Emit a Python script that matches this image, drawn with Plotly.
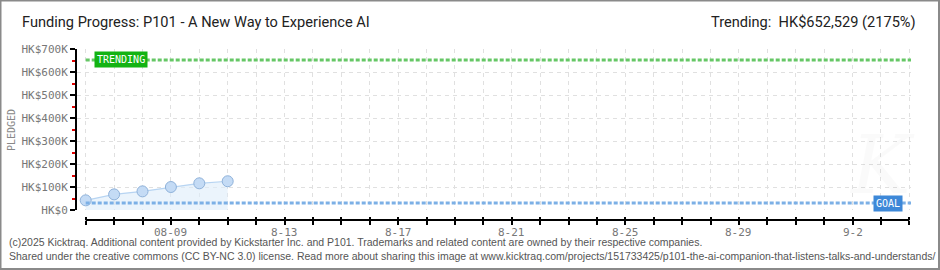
import plotly.graph_objects as go

# ---- data ----
dates = ["2025-08-06", "2025-08-07", "2025-08-08", "2025-08-09", "2025-08-10", "2025-08-11"]
pledged = [42000, 68000, 81000, 100000, 116000, 125000]
goal = 30000
trending = 652529
trend_pct = 2175
tick_dates = ["2025-08-09", "2025-08-13", "2025-08-17", "2025-08-21", "2025-08-25", "2025-08-29", "2025-09-02"]
tick_text = ["08-09", "8-13", "8-17", "8-21", "8-25", "8-29", "9-2"]
y_ticks = [0, 100000, 200000, 300000, 400000, 500000, 600000, 700000]
y_text = ["HK$0", "HK$100K", "HK$200K", "HK$300K", "HK$400K", "HK$500K", "HK$600K", "HK$700K"]
x_range = ["2025-08-05 16:39", "2025-09-04 01:26"]
axis_end = "2025-09-04"
line_end = "2025-09-04 01:26"

# ---- geometry helpers (pixels -> paper) ----
W, H = 940, 270
L, R, T, B = 77, 29, 49, 50
PW, PH = W - L - R, H - T - B
def px(x):
    return (x - L) / PW
def py(y):
    return (H - B - y) / PH

MONO = "DejaVu Sans Mono"
TITLE = "Roboto, Liberation Sans, sans-serif"
FOOT = "Liberation Sans, Arial, sans-serif"

fig = go.Figure()

fig.add_trace(go.Scatter(
    x=dates, y=pledged, mode="lines+markers",
    line=dict(color="#b7d4f2", width=1.2),
    fill="tozeroy", fillcolor="rgba(222,236,250,0.6)",
    marker=dict(size=11, color="#c4dbf5", line=dict(color="#8fb2da", width=1)),
    showlegend=False, hoverinfo="skip"))

fig.add_trace(go.Scatter(
    x=[dates[0], line_end], y=[goal, goal], mode="lines",
    line=dict(color="#7cb0e6", width=3, dash="4px,2px"),
    showlegend=False, hoverinfo="skip"))

fig.add_trace(go.Scatter(
    x=[dates[0], line_end], y=[trending, trending], mode="lines",
    line=dict(color="#66c766", width=3, dash="4px,2px"),
    showlegend=False, hoverinfo="skip"))

# empty trace on overlay axis for inward ticks
fig.add_trace(go.Scatter(x=[], y=[], xaxis="x2", showlegend=False))

tick_common = dict(
    type="date", range=x_range, dtick=86400000, tick0="2025-08-06",
)

GRID = dict(showgrid=True, gridcolor="#e0e0e0", griddash="4px,4px", gridwidth=1)

fig.update_layout(
    width=W, height=H,
    margin=dict(l=L, r=R, t=T, b=B),
    paper_bgcolor="white", plot_bgcolor="white",
    xaxis=dict(
        **tick_common, **GRID,
        anchor="free", position=0,
        showline=False,
        ticks="outside", ticklen=4, tickwidth=1.5, tickcolor="black",
        showticklabels=False,
        zeroline=False,
    ),
    xaxis2=dict(
        **tick_common,
        overlaying="x", anchor="free", position=0,
        showline=False, ticks="inside", ticklen=3, tickwidth=1.5, tickcolor="black",
        showgrid=False, showticklabels=False, zeroline=False,
    ),
    yaxis=dict(
        **GRID,
        range=[0, 700000], domain=[10 / PH, 1],
        tickvals=y_ticks, ticktext=y_text,
        tickfont=dict(family=MONO, size=11, color="#777777"),
        showline=True, linecolor="black", linewidth=2,
        ticks="outside", ticklen=5, tickwidth=1.5, tickcolor="black",
        minor=dict(dtick=50000, tick0=0, ticks="outside", ticklen=3, tickcolor="#e00000", tickwidth=1.5, showgrid=False),
        zeroline=False,
    ),
)

# x tick labels as annotations (partly hidden by the footer band, as in the source)
anns = []
for d, t in zip(tick_dates, tick_text):
    anns.append(dict(x=d, xref="x", y=py(224), yref="paper", yanchor="top",
                     text=t, showarrow=False, font=dict(family=MONO, size=11, color="#777777")))

shapes = [
    # x axis line (starts at first day, like the source)
    dict(type="line", xref="x", yref="paper", x0=dates[0], x1=axis_end, y0=0, y1=0,
         line=dict(color="black", width=2)),
    dict(type="rect", xref="paper", yref="paper", x0=px(1), x1=px(939), y0=py(268), y1=py(232),
         fillcolor="white", line=dict(width=0), layer="above"),
    dict(type="rect", xref="paper", yref="paper", x0=px(0.5), x1=px(939), y0=py(269), y1=py(0.5),
         fillcolor="rgba(0,0,0,0)", line=dict(color="#8a8a8a", width=2), layer="above"),
]

anns += [
    dict(x=px(20), y=py(22), xref="paper", yref="paper", xanchor="left", yanchor="middle",
         text="Funding Progress: P101 - A New Way to Experience AI", showarrow=False,
         font=dict(family=TITLE, size=14.6, color="#222222")),
    dict(x=px(918), y=py(22), xref="paper", yref="paper", xanchor="right", yanchor="middle",
         text=f"Trending:  HK${trending:,} ({trend_pct}%)", showarrow=False,
         font=dict(family=TITLE, size=14.6, color="#222222")),
    dict(x=px(11), y=py(130), xref="paper", yref="paper", xanchor="center", yanchor="middle",
         text="PLEDGED", textangle=-90, showarrow=False,
         font=dict(family=MONO, size=10, color="#888888")),
    dict(x=px(120.5), y=trending, xref="paper", yref="y", xanchor="center", yanchor="middle",
         text="TRENDING", showarrow=False, bgcolor="#13b313", borderpad=2,
         font=dict(family=MONO, size=10, color="white")),
    dict(x=px(888), y=goal, xref="paper", yref="y", xanchor="center", yanchor="middle",
         text="GOAL", showarrow=False, bgcolor="#3d88d8", borderpad=2,
         font=dict(family=MONO, size=10, color="white")),
    dict(x=px(882), y=py(165), xref="paper", yref="paper", xanchor="center", yanchor="middle",
         text="<i>K</i>", showarrow=False,
         font=dict(family="DejaVu Serif", size=80, color="rgba(0,0,0,0.02)")),
    dict(x=px(7), y=py(242), xref="paper", yref="paper", xanchor="left", yanchor="middle",
         text="(c)2025 Kicktraq. Additional content provided by Kickstarter Inc. and P101. Trademarks and related content are owned by their respective companies.",
         showarrow=False, font=dict(family=FOOT, size=10.5, color="#555555")),
    dict(x=px(7), y=py(256), xref="paper", yref="paper", xanchor="left", yanchor="middle",
         text="Shared under the creative commons (CC BY-NC 3.0) license. Read more about sharing this image at www.kicktraq.com/projects/151733425/p101-the-ai-companion-that-listens-talks-and-understands/",
         showarrow=False, font=dict(family=FOOT, size=10.5, color="#555555")),
]

fig.update_layout(annotations=anns, shapes=shapes)
fig.write_html("out.html")
